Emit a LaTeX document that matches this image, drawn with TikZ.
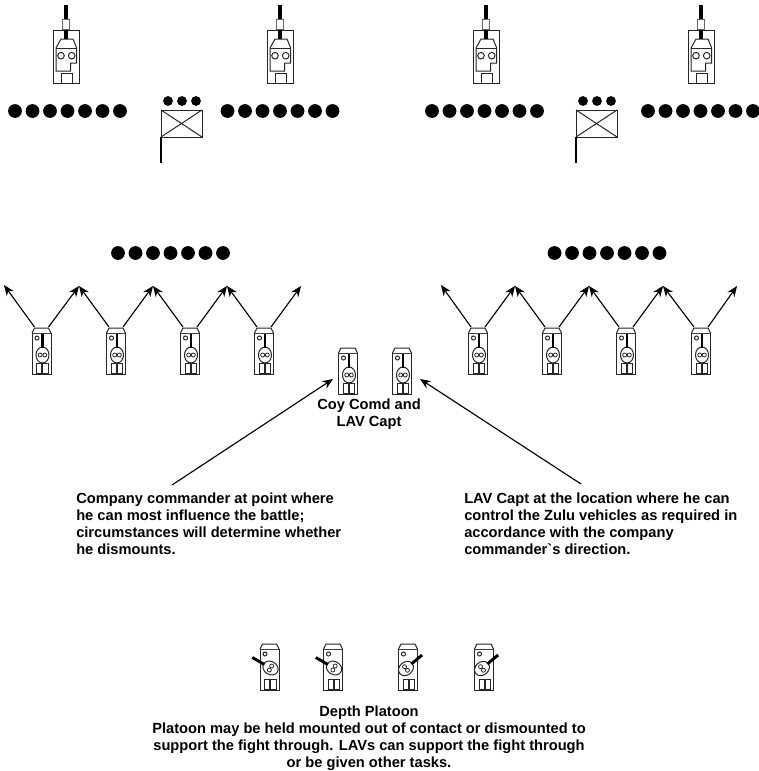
\documentclass[tikz,border=0pt]{standalone}
\usepackage{fontspec}
\setmainfont{Liberation Sans}
\usetikzlibrary{arrows.meta}
\tikzset{
  note/.style={font=\bfseries\fontsize{11}{12.75}\selectfont, inner sep=0pt},
  move/.style={-{Stealth[length=8pt,width=6.5pt]}, line width=0.85pt},
  hull/.style={draw=black!85, line width=0.75pt, fill=white},
  dotrow/.pic={
    \fill (0,0) circle (6.9);
    \fill (17.5,0) circle (6.9);
    \fill (35,0) circle (6.9);
    \fill (52.5,0) circle (6.9);
    \fill (70,0) circle (6.9);
    \fill (87.5,0) circle (6.9);
    \fill (105,0) circle (6.9);
  },
  hqflag/.pic={
    \draw[hull] (0,0) rectangle (41,27);
    \draw[hull] (0,0) -- (41,27);
    \draw[hull] (0,27) -- (41,0);
    \draw[line width=1.1pt] (0,27) -- (0,53);
    \fill (7,-9) circle (4.9);
    \fill (21,-9) circle (4.9);
    \fill (35,-9) circle (4.9);
  },
  % seen from the rear, gun forward
  lavbig/.pic={
    \draw[hull] (-13,0) rectangle (13,53);
    \draw[hull] (-10,18) -- (-10,41) -- (4.7,41) -- (4.7,33) -- (10.7,33) -- (10.7,18) -- (7,9) -- (-5,9) -- cycle;
    \draw[hull] (-10,18) -- (10.7,18);
    \draw[hull] (-5,43) rectangle (6,53);
    \draw[hull] (-5,25.7) circle (3.3);
    \draw[hull] (5.7,25.7) circle (3.3);
    \draw[line width=2.6pt] (0,-25) -- (0,-11);
    \draw[line width=2.6pt] (0,-1) -- (0,9);
    \draw[draw=black!60, line width=0.6pt, fill=white] (-3.2,-11) rectangle (3.2,-1);
  },
  lavsmall/.pic={
    \draw[hull] (-9.5,5) rectangle (9.5,46);
    \draw[hull] (-9.5,5) -- (-7,0) -- (7,0) -- (9.5,5);
    \draw[hull] (-4.5,10) circle (2);
    \draw[hull] (-5,35) rectangle (0,45);
    \draw[hull] (1.2,35) rectangle (6.8,45);
    \begin{scope}[shift={({1+min(#1,0)*0.06},{27-abs(#1)*0.05})}, rotate=#1]
      \draw[hull] (0,0) ellipse (6.5 and 8);
      \draw[hull, line width=0.6pt] (-2.3,0) circle (2);
      \draw[hull, line width=0.6pt] (2.3,0) circle (2);
      \draw[line width=2.2pt] (0,-7) -- (0,-21);
    \end{scope}
    \coordinate (-l) at (-7,-1);
    \coordinate (-r) at (7,-1);
  },
  pics/lavsmall/.default=0,
}
\begin{document}
\begin{tikzpicture}[x=0.75pt,y=-0.75pt]
  \useasboundingbox (0,0) rectangle (759,771);

  % first line
  \pic (t1) at (66,30) {lavbig};
  \pic (t2) at (280,30) {lavbig};
  \pic (t3) at (486,30) {lavbig};
  \pic (t4) at (701,30) {lavbig};
  \pic (d1) at (15,111) {dotrow};
  \pic (d2) at (227.5,111) {dotrow};
  \pic (d3) at (432,111) {dotrow};
  \pic (d4) at (648,111) {dotrow};
  \pic (h1) at (161,110) {hqflag};
  \pic (h2) at (576,110) {hqflag};

  % second line
  \pic (d5) at (118,253) {dotrow};
  \pic (d6) at (554.5,253) {dotrow};
  \pic (a1) at (41.5,328) {lavsmall};
  \pic (a2) at (116,328) {lavsmall};
  \pic (a3) at (190,328) {lavsmall};
  \pic (a4) at (264,328) {lavsmall};
  \pic (b1) at (478,328) {lavsmall};
  \pic (b2) at (552,328) {lavsmall};
  \pic (b3) at (626,328) {lavsmall};
  \pic (b4) at (701,328) {lavsmall};
  \coordinate (p0) at (4,285);
  \coordinate (p1) at (79,286);
  \coordinate (p2) at (153,286);
  \coordinate (p3) at (227,286);
  \coordinate (p4) at (301,286);
  \coordinate (q0) at (441,285);
  \coordinate (q1) at (515,286);
  \coordinate (q2) at (589,286);
  \coordinate (q3) at (663,286);
  \coordinate (q4) at (737,286);
  \draw [move] (a1-l) to (p0);
  \draw [move] (a1-r) to (p1);
  \draw [move] (a2-l) to (p1);
  \draw [move] (a2-r) to (p2);
  \draw [move] (a3-l) to (p2);
  \draw [move] (a3-r) to (p3);
  \draw [move] (a4-l) to (p3);
  \draw [move] (a4-r) to (p4);
  \draw [move] (b1-l) to (q0);
  \draw [move] (b1-r) to (q1);
  \draw [move] (b2-l) to (q1);
  \draw [move] (b2-r) to (q2);
  \draw [move] (b3-l) to (q2);
  \draw [move] (b3-r) to (q3);
  \draw [move] (b4-l) to (q3);
  \draw [move] (b4-r) to (q4);

  % company headquarters
  \pic (c1) at (348,348) {lavsmall};
  \pic (c2) at (402,348) {lavsmall};
  \node [note, align=center] (coy) at (369,414) {Coy Comd and\\LAV Capt};
  \node [note, align=left, anchor=north west] (coytext) at (76,493) {Company commander at point where\\he can most influence the battle;\\circumstances will determine whether\\he dismounts.};
  \node [note, align=left, anchor=north west] (lavtext) at (464,493) {LAV Capt at the location where he can\\control the Zulu vehicles as required in\\accordance with the company\\commander\textasciigrave s direction.};
  \coordinate (coytail) at (172,485);
  \coordinate (coytip) at (333,379);
  \coordinate (lavtail) at (581,484);
  \coordinate (lavtip) at (420,379);
  \draw [move] (coytail) to (coytip);
  \draw [move] (lavtail) to (lavtip);

  % depth
  \pic (e1) at (269.5,644) {lavsmall=60};
  \pic (e2) at (333,644) {lavsmall=60};
  \pic (e3) at (408,644) {lavsmall=-50};
  \pic (e4) at (484,644) {lavsmall=-50};
  \node [note, align=center, anchor=north] (depth) at (369,706) {Depth Platoon\\Platoon may be held mounted out of contact or dismounted to\\support the fight through. LAVs can support the fight through\\or be given other tasks.};
\end{tikzpicture}
\end{document}
